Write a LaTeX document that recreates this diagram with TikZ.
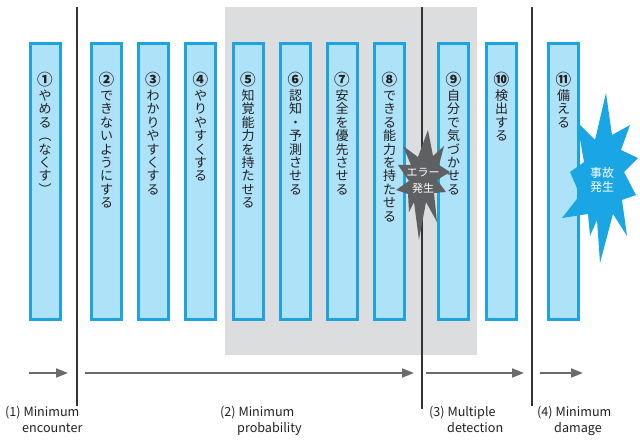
\documentclass[tikz,border=0pt]{standalone}
\usepackage{fontspec}
\setmainfont{Noto Sans CJK JP}
\usetikzlibrary{arrows.meta}
\definecolor{boxline}{HTML}{1FA3DE}
\definecolor{boxfill}{HTML}{AEE2F8}
\definecolor{bandgray}{HTML}{DCDDDF}
\definecolor{arrowgray}{HTML}{6A6B6D}
\definecolor{stargray}{HTML}{5F6062}
\definecolor{starblue}{HTML}{1AA6E4}
\definecolor{txt}{HTML}{231F20}
\newcommand\vtxt[2]{\vbox{\baselineskip=13.4pt\lineskiplimit=-\maxdimen\lineskip=0pt\hbox to 13pt{\hss\bfseries\scalebox{1.2}{#1}\hss}\kern1.5pt\vtxtloop#2\relax}}
\def\vtxtloop#1{\ifx\relax#1\else\hbox to 13pt{\hss#1\hss}\expandafter\vtxtloop\fi}
\tikzset{
  stepbox/.style={draw=boxline, fill=boxfill, line width=3pt, minimum width=30pt, minimum height=276pt, inner sep=0pt},
  vlabel/.style={anchor=north, inner sep=0pt, text=txt, font=\fontsize{13}{13.4}\selectfont},
  divider/.style={draw=black!80, line width=1.1pt},
  flow/.style={draw=arrowgray, line width=2pt, -{Triangle[length=12pt,width=9pt]}},
  phase/.style={anchor=base west, inner sep=0pt, text=txt, font=\fontsize{12.6}{15}\selectfont},
  startext/.style={text=white, align=center, inner sep=0pt},
}
\begin{document}
\begin{tikzpicture}[x=1pt,y=-1pt]
\useasboundingbox (0,0) rectangle (640,443);
% gray band
\fill[bandgray] (225,7) rectangle (477,355);
% dividers
\coordinate (d1t) at (77,7); \coordinate (d1b) at (77,406);
\coordinate (d2t) at (422,7); \coordinate (d2b) at (422,409);
\coordinate (d3t) at (532,7); \coordinate (d3b) at (532,406);
\draw[divider] (d1t) -- (d1b);
\draw[divider] (d2t) -- (d2b);
\draw[divider] (d3t) -- (d3b);
% boxes
\node[stepbox] (b1) at (45,181.5) {};
\node[stepbox] (b2) at (106.5,181.5) {};
\node[stepbox] (b3) at (153,181.5) {};
\node[stepbox] (b4) at (200.5,181.5) {};
\node[stepbox] (b5) at (248,181.5) {};
\node[stepbox] (b6) at (295.5,181.5) {};
\node[stepbox] (b7) at (342,181.5) {};
\node[stepbox] (b8) at (389.5,181.5) {};
\node[stepbox] (b9) at (453.5,181.5) {};
\node[stepbox] (b10) at (501.5,181.5) {};
\node[stepbox] (b11) at (563.5,181.5) {};
% vertical texts
\node[vlabel] (t1) at (45,72) {\vtxt{①}{やめる︵なくす︶}};
\node[vlabel] (t2) at (106.5,72) {\vtxt{②}{できないようにする}};
\node[vlabel] (t3) at (153,72) {\vtxt{③}{わかりやすくする}};
\node[vlabel] (t4) at (200.5,72) {\vtxt{④}{やりやすくする}};
\node[vlabel] (t5) at (248,72) {\vtxt{⑤}{知覚能力を持たせる}};
\node[vlabel] (t6) at (295.5,72) {\vtxt{⑥}{認知・予測させる}};
\node[vlabel] (t7) at (342,72) {\vtxt{⑦}{安全を優先させる}};
\node[vlabel] (t8) at (389.5,72) {\vtxt{⑧}{できる能力を持たせる}};
\node[vlabel] (t9) at (453.5,72) {\vtxt{⑨}{自分で気づかせる}};
\node[vlabel] (t10) at (501.5,72) {\vtxt{⑩}{検出する}};
\node[vlabel] (t11) at (563.5,72) {\vtxt{⑪}{備える}};
% gray star
\fill[stargray] (428,130) -- (433,156) -- (444,146) -- (439,165) -- (450,172) -- (437,180) -- (446,192) -- (434,193) -- (437,222) -- (426,202) -- (419,240) -- (414,202) -- (409,212) -- (408,194) -- (396,190) -- (409,181) -- (398,165) -- (411,165) -- (403,146) -- (418,157) -- cycle;
\node[startext, font=\fontsize{11}{16}\selectfont] (err) at (423,181) {エラー\\発生};
% blue star
\fill[starblue] (606,93) -- (612,135) -- (630,125) -- (621,150) -- (638,158) -- (624,172) -- (636,195) -- (622,200) -- (627,236) -- (613,214) -- (600,263) -- (597,220) -- (590,236) -- (588,214) -- (562,218) -- (580,195) -- (570,172) -- (584,162) -- (577,122) -- (595,140) -- cycle;
\node[startext, font=\fontsize{12}{14}\selectfont] (acc) at (602,180) {事故\\発生};
% arrows
\coordinate (a1s) at (29,373); \coordinate (a1e) at (68,373);
\coordinate (a2s) at (85,373); \coordinate (a2e) at (414,373);
\coordinate (a3s) at (426,373); \coordinate (a3e) at (524,373);
\coordinate (a4s) at (540,373); \coordinate (a4e) at (583,373);
\draw[flow] (a1s) -- (a1e);
\draw[flow] (a2s) -- (a2e);
\draw[flow] (a3s) -- (a3e);
\draw[flow] (a4s) -- (a4e);
% phase labels
\node[phase] (p1a) at (5,417) {(1) Minimum};
\node[phase] (p1b) at (22,432) {encounter};
\node[phase] (p2a) at (220,417) {(2) Minimum};
\node[phase] (p2b) at (237,432) {probability};
\node[phase] (p3a) at (429,417) {(3) Multiple};
\node[phase] (p3b) at (447,432) {detection};
\node[phase] (p4a) at (537,417) {(4) Minimum};
\node[phase] (p4b) at (554,432) {damage};
\end{tikzpicture}
\end{document}
